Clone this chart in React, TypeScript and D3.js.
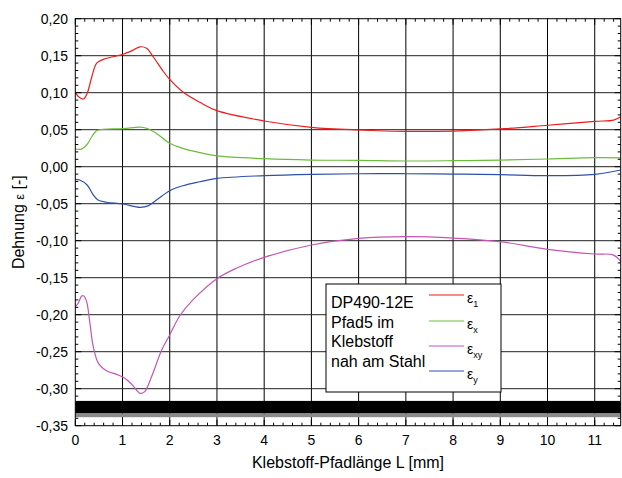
import React from "react";
import * as d3 from "d3";

const redX = [0, 0.07, 0.17, 0.25, 0.35, 0.45, 0.59, 0.8, 1.01, 1.23, 1.37, 1.51, 1.65, 1.86, 2.0, 2.28, 2.64, 3, 4, 5, 6, 7, 8, 9, 10, 11, 11.4, 11.55];
const redY = [0.1, 0.0946, 0.0915, 0.099, 0.1216, 0.1397, 0.145, 0.1486, 0.152, 0.1577, 0.162, 0.16, 0.1486, 0.129, 0.118, 0.101, 0.087, 0.0757, 0.0618, 0.0532, 0.0496, 0.0478, 0.0482, 0.051, 0.056, 0.0613, 0.063, 0.0676];

const greenX = [0, 0.13, 0.24, 0.35, 0.45, 0.59, 1.01, 1.37, 1.51, 1.72, 2.0, 2.28, 2.64, 3, 4, 5, 6, 7, 8, 9, 10, 11, 11.55];
const greenY = [0.0239, 0.0237, 0.0293, 0.0405, 0.0487, 0.0505, 0.0514, 0.0536, 0.052, 0.045, 0.0316, 0.0248, 0.019, 0.0145, 0.0108, 0.009, 0.0086, 0.0077, 0.0081, 0.009, 0.0104, 0.0122, 0.012];

const magX = [0, 0.06, 0.135, 0.18, 0.24, 0.31, 0.38, 0.49, 0.66, 0.875, 1.015, 1.19, 1.37, 1.47, 1.615, 1.83, 2.0, 2.21, 2.49, 3, 3.41, 4, 5, 6, 7, 8, 9, 10, 11, 11.39, 11.55];
const magY = [-0.189, -0.1846, -0.1747, -0.1747, -0.1824, -0.2117, -0.243, -0.2657, -0.2757, -0.2806, -0.2846, -0.2936, -0.3063, -0.304, -0.2838, -0.2477, -0.2274, -0.2018, -0.18, -0.1513, -0.1373, -0.1225, -0.1058, -0.0968, -0.0946, -0.0964, -0.1013, -0.1117, -0.118, -0.1192, -0.128];

const blueX = [0, 0.09, 0.25, 0.38, 0.48, 0.66, 1.01, 1.37, 1.54, 1.72, 2.0, 2.28, 2.64, 3, 4, 5, 6, 7, 8, 9, 10, 11, 11.55];
const blueY = [-0.017, -0.018, -0.0247, -0.038, -0.045, -0.048, -0.0504, -0.0549, -0.053, -0.045, -0.0324, -0.0257, -0.0203, -0.0158, -0.0121, -0.0103, -0.0095, -0.0095, -0.0099, -0.0108, -0.0121, -0.0103, -0.0045];

const xTicks = [0, 1, 2, 3, 4, 5, 6, 7, 8, 9, 10, 11];
const yTicks = [0.2, 0.15, 0.1, 0.05, 0, -0.05, -0.1, -0.15, -0.2, -0.25, -0.3, -0.35];
const legendNote = ["DP490-12E", "Pfad5 im", "Klebstoff", "nah am Stahl"];
const seriesSubs = ["1", "x", "xy", "y"];
const steelBand = [-0.3165, -0.3335];
const steelEdge = [-0.3335, -0.3385];

const colors = ["#ee1c1c", "#6cbb3c", "#c555b5", "#2d50a8"];

export default function App() {
  const W = 622, H = 478;
  const L = 75.3, R = 620.7, T = 18.7, B = 425.7;
  const x = d3.scaleLinear().domain([0, 11.55]).range([L, R]);
  const y = d3.scaleLinear().domain([-0.35, 0.2]).range([B, T]);
  const font = "Liberation Sans, Arial, sans-serif";

  const series = [
    { xs: redX, ys: redY },
    { xs: greenX, ys: greenY },
    { xs: magX, ys: magY },
    { xs: blueX, ys: blueY },
  ];
  const line = d3
    .line<[number, number]>()
    .x((d) => x(d[0]))
    .y((d) => y(d[1]))
    .curve(d3.curveCatmullRom.alpha(0.5));

  const xMinor = d3.range(0, 11.55 + 1e-9, 0.2).filter((v) => Math.abs(v - Math.round(v)) > 1e-6);
  const yMinor = d3.range(-0.35, 0.2 + 1e-9, 0.01).filter((v) => Math.abs(v * 20 - Math.round(v * 20)) > 1e-6);
  const fmt = (v: number) => {
    const s = Math.abs(v).toFixed(2).replace(".", ",");
    return (v < -1e-9 ? "-" : "") + s;
  };

  const legX = 326, legY = 284, legW = 175, legH = 108;
  const lineRows = [295, 321, 346, 371];

  return (
    <svg width={W} height={H} style={{ position: "absolute", left: 0, top: 0, background: "#fff" }} fontFamily={font}>
      <rect x={0} y={0} width={W} height={H} fill="#fff" />
      {/* grid */}
      {xTicks.filter((v) => v > 0).map((v) => (
        <line key={"gx" + v} x1={x(v)} x2={x(v)} y1={T} y2={B} stroke="#000" strokeWidth={1} />
      ))}
      {yTicks.filter((v) => v < 0.2 && v > -0.35).map((v) => (
        <line key={"gy" + v} x1={L} x2={R} y1={y(v)} y2={y(v)} stroke="#222" strokeWidth={1} />
      ))}
      {/* steel band */}
      <rect x={L} y={y(steelBand[0])} width={R - L} height={y(steelBand[1]) - y(steelBand[0])} fill="#000" />
      <rect x={L} y={y(steelEdge[0])} width={R - L} height={y(steelEdge[1]) - y(steelEdge[0])} fill="#8a8a8a" />
      {/* curves */}
      {series.map((s, i) => (
        <path
          key={"s" + i}
          d={line(s.xs.map((v, j) => [v, s.ys[j]] as [number, number])) || ""}
          fill="none"
          stroke={colors[i]}
          strokeWidth={1.2}
        />
      ))}
      {/* frame */}
      <rect x={L} y={T} width={R - L} height={B - T} fill="none" stroke="#000" strokeWidth={1} />
      {/* ticks */}
      {xTicks.map((v) => (
        <g key={"xt" + v}>
          <line x1={x(v)} x2={x(v)} y1={B} y2={B - 6} stroke="#000" />
          <line x1={x(v)} x2={x(v)} y1={T} y2={T + 6} stroke="#000" />
          <text x={x(v)} y={445} textAnchor="middle" fontSize={14} fill="#000">{v}</text>
        </g>
      ))}
      {xMinor.map((v) => (
        <g key={"xm" + v}>
          <line x1={x(v)} x2={x(v)} y1={B} y2={B - 3} stroke="#000" />
          <line x1={x(v)} x2={x(v)} y1={T} y2={T + 3} stroke="#000" />
        </g>
      ))}
      {yTicks.map((v) => (
        <g key={"yt" + v}>
          <line x1={L} x2={L + 6} y1={y(v)} y2={y(v)} stroke="#000" />
          <line x1={R} x2={R - 6} y1={y(v)} y2={y(v)} stroke="#000" />
          <text x={68} y={y(v) + 5} textAnchor="end" fontSize={14} fill="#000">{fmt(v)}</text>
        </g>
      ))}
      {yMinor.map((v) => (
        <g key={"ym" + v}>
          <line x1={L} x2={L + 3} y1={y(v)} y2={y(v)} stroke="#000" />
          <line x1={R} x2={R - 3} y1={y(v)} y2={y(v)} stroke="#000" />
        </g>
      ))}
      {/* axis titles */}
      <text x={(L + R) / 2} y={468} textAnchor="middle" fontSize={16} fill="#000">Klebstoff-Pfadlänge L [mm]</text>
      <text transform={`translate(24,${(T + B) / 2}) rotate(-90)`} textAnchor="middle" fontSize={16} fill="#000">
        Dehnung <tspan fontSize={13}>ε</tspan> [-]
      </text>
      {/* legend */}
      <rect x={legX} y={legY} width={legW} height={legH} fill="#fff" stroke="#000" strokeWidth={1} />
      {legendNote.map((t, i) => (
        <text key={"ln" + i} x={331} y={308 + i * 19.7} fontSize={16} fill="#000">{t}</text>
      ))}
      {seriesSubs.map((s, i) => (
        <g key={"lg" + i}>
          <line x1={429} x2={464} y1={lineRows[i]} y2={lineRows[i]} stroke={colors[i]} strokeWidth={1.2} />
          <text x={467} y={lineRows[i] + 8} fontSize={14} fill="#000">
            ε<tspan fontSize={9} dy={4}>{s}</tspan>
          </text>
        </g>
      ))}
    </svg>
  );
}
